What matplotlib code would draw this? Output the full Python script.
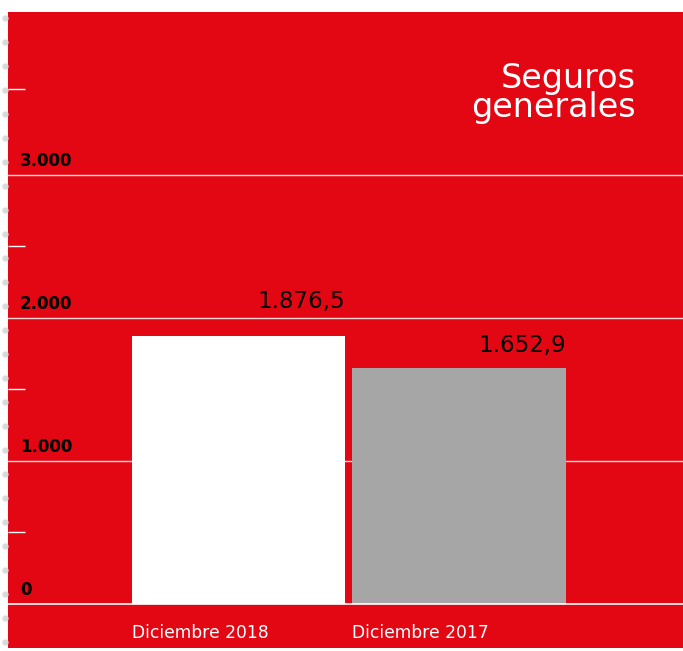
import numpy as np
import matplotlib
matplotlib.use('Agg')
import matplotlib.pyplot as plt
from matplotlib.lines import Line2D
import matplotlib.transforms as mtransforms

categories = ['Diciembre 2018', 'Diciembre 2017']
values = [1876.5, 1652.9]
value_labels = ['1.876,5', '1.652,9']
major_ticks = [0, 1000, 2000, 3000]
major_labels = ['0', '1.000', '2.000', '3.000']
minor_ticks = [500, 1500, 2500, 3600]
title = 'Seguros\ngenerales'

RED = '#e30613'
GREY = '#a6a6a6'
plt.rcParams['font.family'] = ['DejaVu Sans']

W, H = 683, 651
fig = plt.figure(figsize=(W / 100, H / 100), dpi=100, facecolor='white')
ax = fig.add_axes([8 / W, 3 / H, (W - 8) / W, (648 - 12) / H])
ax.set_facecolor(RED)
for s in ax.spines.values():
    s.set_visible(False)

x = np.arange(len(categories))
bw = 0.968
ax.bar(x, values, width=bw, color=['white', GREY], zorder=2)
ax.set_xlim(-1.045, 2.016)
ax.set_ylim(-308, 4140)

for yv in major_ticks[1:]:
    ax.axhline(yv, color='white', lw=1, alpha=0.85, zorder=1)
ax.axhline(0, color='white', lw=1.2, zorder=3)

# short ticks at half steps
ax.set_yticks(minor_ticks)
ax.set_yticklabels([])
ax.tick_params(axis='y', direction='in', length=12, width=1, color='white', pad=0)
ax.set_xticks([])

trans = mtransforms.blended_transform_factory(ax.transAxes, ax.transData)
for yv, lab in zip(major_ticks, major_labels):
    ax.text(12 / (W - 8), yv + 35, lab, transform=trans, fontsize=12,
            fontweight='bold', color='black', ha='left', va='bottom')

# value labels sit right-aligned on the bar's right edge
for xi, v, lab, off in zip(x, values, value_labels, [20, 11]):
    ax.annotate(lab, (xi + bw / 2, v), xytext=(0, off), textcoords='offset points',
                fontsize=16.5, color='black', ha='right', va='baseline', zorder=4)

for xi, cat in zip(x, categories):
    ax.text(xi - 0.484, -200, cat, fontsize=12.3, color='white',
            ha='left', va='center')

ax.text((636 - 8) / (W - 8), (648 - 93) / (648 - 12), title,
        transform=ax.transAxes, fontsize=24, color='white', ha='right',
        va='center', linespacing=0.88)

# grey dots in the left margin
for yp in np.arange(18, 648, 24):
    fig.add_artist(Line2D([5 / W], [1 - yp / H], marker='o', markersize=3.5,
                          color='#d9d9d9', transform=fig.transFigure, lw=0))

fig.savefig('out.png', dpi=100, facecolor='white')
